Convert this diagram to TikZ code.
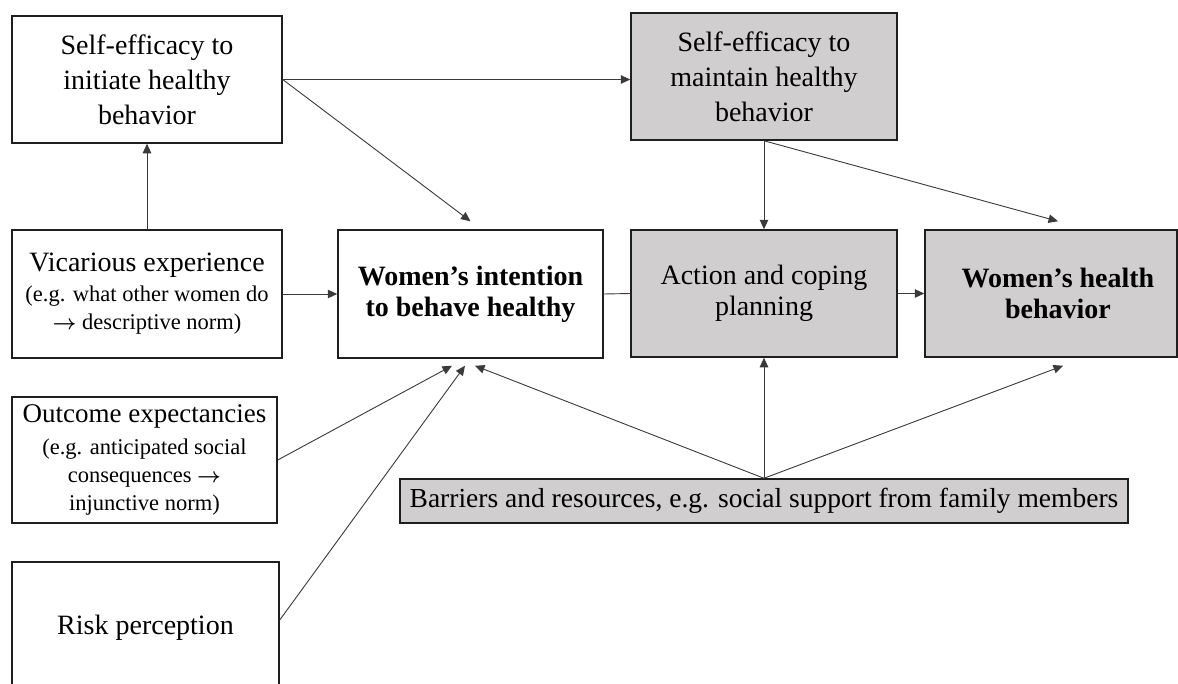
\documentclass[tikz,border=0pt]{standalone}
\usepackage{fontspec}
\setmainfont{Liberation Serif}
\usetikzlibrary{arrows.meta,calc}
\definecolor{boxgray}{HTML}{D0CECE}
\definecolor{edge}{HTML}{1F1F1F}
\definecolor{wire}{HTML}{3A3A3A}
% thick text arrow used inside the norm labels
\newcommand{\normarrow}{{\boldmath$\rightarrow$}}

\begin{document}
\begin{tikzpicture}[x=1pt,y=-1pt,
  box/.style={draw=edge,line width=1.5pt,rectangle,inner sep=0pt,align=center,
    font=\fontsize{28}{31}\selectfont},
  shaded/.style={box,fill=boxgray},
  roomy/.style={font=\fontsize{28}{35}\selectfont},
  small/.style={font=\fontsize{22.5}{28}\selectfont},
  link/.style={draw=wire,line width=0.9pt},
  arr/.style={link,-{Triangle[length=9.5pt,width=8.5pt]}}
]
\useasboundingbox (0,0) rectangle (1178,683);
\fill[white] (0,0) rectangle (1178,683);

% left column: sources of intention
\node[box,roomy,minimum width=270pt,minimum height=127pt] (seinit) at (147,79.5)
  {Self-efficacy to\\initiate healthy\\behavior};
\node[box,small,minimum width=270pt,minimum height=128pt] (vic) at (147,294)
  {{\fontsize{28}{28}\selectfont Vicarious experience}\\[2pt](e.g. what other women do\\\normarrow{} descriptive norm)};
\node[box,small,minimum width=265pt,minimum height=126pt] (outcome) at (144.5,460)
  {{\fontsize{27}{28}\selectfont Outcome expectancies}\\[4pt](e.g. anticipated social\\consequences \normarrow\\injunctive norm)};
\node[box,minimum width=267pt,minimum height=132pt] (risk) at (145.5,628)
  {Risk perception};

% motivational and volitional phase
\node[box,minimum width=265pt,minimum height=128pt] (intent) at (470.5,294)
  {\bfseries Women’s intention\\\bfseries to behave healthy};
\node[shaded,roomy,minimum width=266pt,minimum height=127pt] (semaint) at (764,76.5)
  {Self-efficacy to\\maintain healthy\\behavior};
\node[shaded,minimum width=266pt,minimum height=127pt] (action) at (764,293.5)
  {Action and coping\\planning};
\node[shaded,minimum width=252pt,minimum height=127pt] (health) at (1051,293.5)
  {\hspace*{14pt}\bfseries Women’s health\\\hspace*{14pt}\bfseries behavior};
\node[shaded,minimum width=728pt,minimum height=44pt] (barr) at (764,501)
  {\fontsize{27.5}{30}\selectfont Barriers and resources, e.g. social support from family members};

% arrow tips that stop short of their boxes
\coordinate (tipA) at ([yshift=8pt]intent.north);
\coordinate (tipB) at ([xshift=7pt,yshift=8pt]health.north);
\coordinate (tipC1) at ([xshift=-18.5pt,yshift=-7pt]intent.south);
\coordinate (tipC2) at ([xshift=-5.5pt,yshift=-7pt]intent.south);
\coordinate (tipC3) at ([xshift=4.5pt,yshift=-7pt]intent.south);
\coordinate (tipD) at ([xshift=12pt,yshift=-8pt]health.south);
\coordinate (riskout) at ([yshift=8pt]risk.east);

% connectors
\draw[arr] (vic.north) -- (seinit.south);
\draw[arr] (seinit.east) -- (seinit.east -| semaint.west);
\draw[arr] (seinit.east) -- (tipA);
\draw[arr] (semaint.south) -- (action.north);
\draw[arr] (semaint.south) -- (tipB);
\draw[arr] (vic.east) -- (intent.west);
\draw[link] (intent.east) -- (action.west);
\draw[arr] (action.east) -- (health.west);
\draw[arr] (outcome.east) -- (tipC1);
\draw[arr] (riskout) -- (tipC2);
\draw[arr] (barr.north) -- (tipC3);
\draw[arr] (barr.north) -- (action.south);
\draw[arr] (barr.north) -- (tipD);
\end{tikzpicture}
\end{document}
